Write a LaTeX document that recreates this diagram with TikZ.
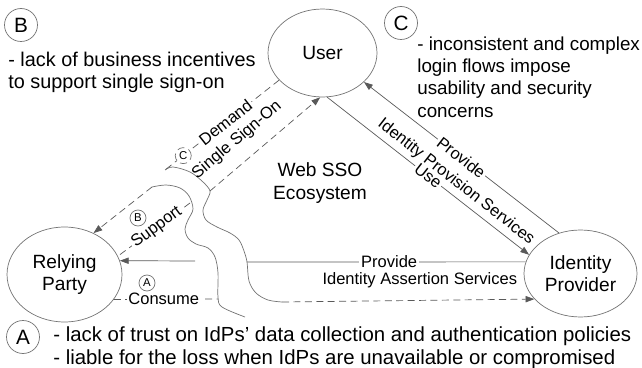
\documentclass[tikz,border=0pt]{standalone}
\usepackage{fontspec}
\setmainfont{Liberation Sans}
\usepackage{tikz}
\usetikzlibrary{arrows,arrows.meta,shapes.geometric,calc}

\newcommand{\txtfont}{\fontsize{10.9}{12.6}\selectfont}
\newcommand{\notefont}{\fontsize{11.3}{12.7}\selectfont}
\newcommand{\lblfont}{\fontsize{9.4}{10}\selectfont}
\newcommand{\tagfont}{\fontsize{6.5}{7}\selectfont}

\tikzset{
  party/.style={ellipse,draw=black!55,line width=0.4pt,inner sep=0pt,align=center,font=\txtfont},
  bigtag/.style={circle,draw=black!55,line width=0.4pt,inner sep=0pt,minimum size=0.66cm,font=\fontsize{11.8}{12}\selectfont},
  tag/.style={circle,draw=black!55,line width=0.4pt,inner sep=0pt,minimum size=0.32cm,font=\tagfont,fill=white},
  note/.style={anchor=base west,align=left,inner sep=0pt,font=\notefont},
  lbl/.style={font=\lblfont,inner sep=1pt},
  tear/.style={draw=black!55,line width=0.4pt},
  conn/.style={line width=0.4pt,>={Triangle[length=5pt,width=3.6pt]},every edge/.style={draw=black!65}},
  dashln/.style={dash pattern=on 4pt off 2.5pt}
}

\begin{document}
\begin{tikzpicture}[x=0.02cm,y=-0.02cm]
  \useasboundingbox (0,0) rectangle (642,368);
  % parties
  \node[party,minimum width=2.18cm,minimum height=1.76cm] (U) at (322.5,53) {User};
  \node[party,minimum width=2.3cm,minimum height=1.9cm] (RP) at (64.5,274.5) {Relying\\Party};
  \node[party,minimum width=2.26cm,minimum height=1.74cm] (IdP) at (580.5,273.5) {Identity\\Provider};
  \node[align=center,font=\txtfont] (eco) at (320,183) {Web SSO\\Ecosystem};

  % problems (anchored at the baseline of the last line)
  \node[bigtag] (nB) at (21,25) {B};
  \node[note] (noteB) at (8,89) {- lack of business incentives\\to support single sign-on};
  \node[bigtag] (nC) at (401,23) {C};
  \node[note,font=\fontsize{10.7}{12.7}\selectfont] (noteC) at (417,117) {- inconsistent and complex\\login flows impose\\usability and security\\concerns};
  \node[bigtag] (nA) at (23,337) {A};
  \node[note,font=\fontsize{11.6}{12.6}\selectfont] (noteA) at (53,364) {- lack of trust on IdPs’ data collection and authentication policies\\- liable for the loss when IdPs are unavailable or compromised};

  % the gap
  \draw[tear] plot[smooth,tension=0.55] coordinates {(165,170) (173,167) (190,172) (203,182)
    (210,191) (207,200) (203,210) (206,220) (217,227) (230,233) (239,240) (244,251)
    (247,262) (249,281) (256,293) (268,300) (282,302)};
  \draw[tear] plot[smooth,tension=0.55] coordinates {(152,187) (166,185) (180,188) (189,196)
    (193,209) (188,220) (185,229) (188,238) (196,244) (208,248) (215,257) (218,273)
    (218,297) (222,307) (245,317)};
  \coordinate (rtop) at (165,170);
  \coordinate (rA) at (210,191);
  \coordinate (rB) at (247,262);
  \coordinate (rC) at (282,302);
  \coordinate (ltop) at (152,187);
  \coordinate (lA) at (190,203);
  \coordinate (lB) at (195,261);
  \coordinate (lC) at (218,299);

  \node[tag] (tB) at (138,218) {B};
  \node[tag] (tA) at (147,283) {A};

  % relations
  \path[conn,->]
    (IdP.118) edge node[lbl,fill=white,sloped] (l1) {Provide} (U.-35)
    (U.-84) edge node[lbl,fill=white,sloped] (l2) {Use}
      node[lbl,sloped,above=1.5pt,pos=0.6] (l3) {Identity Provision Services} (IdP.160)
    (lB) edge (RP.14);
  \path[conn]
    (IdP.168) edge node[lbl,fill=white,pos=0.49] (l4) {Provide}
      node[lbl,below=5pt,pos=0.38] (l5) {Identity Assertion Services} (rB);
  \path[conn,dashln]
    (U.-148) edge node[lbl,fill=white,sloped,pos=0.47] (l6) {Demand}
      node[tag,pos=0.84] (tC) {C} (rtop)
    (lA) edge node[lbl,fill=white,sloped,pos=0.46] (l7) {Support} (RP.19)
    (RP.-27) edge node[lbl,fill=white,pos=0.48] (l8) {Consume} (lC);
  \path[conn,dashln,->]
    (rA) edge node[lbl,sloped,above=6.5pt,pos=0.37] (l9) {Single Sign-On} (U.-93)
    (ltop) edge (RP.55)
    (rC) edge (IdP.-151);
\end{tikzpicture}
\end{document}
